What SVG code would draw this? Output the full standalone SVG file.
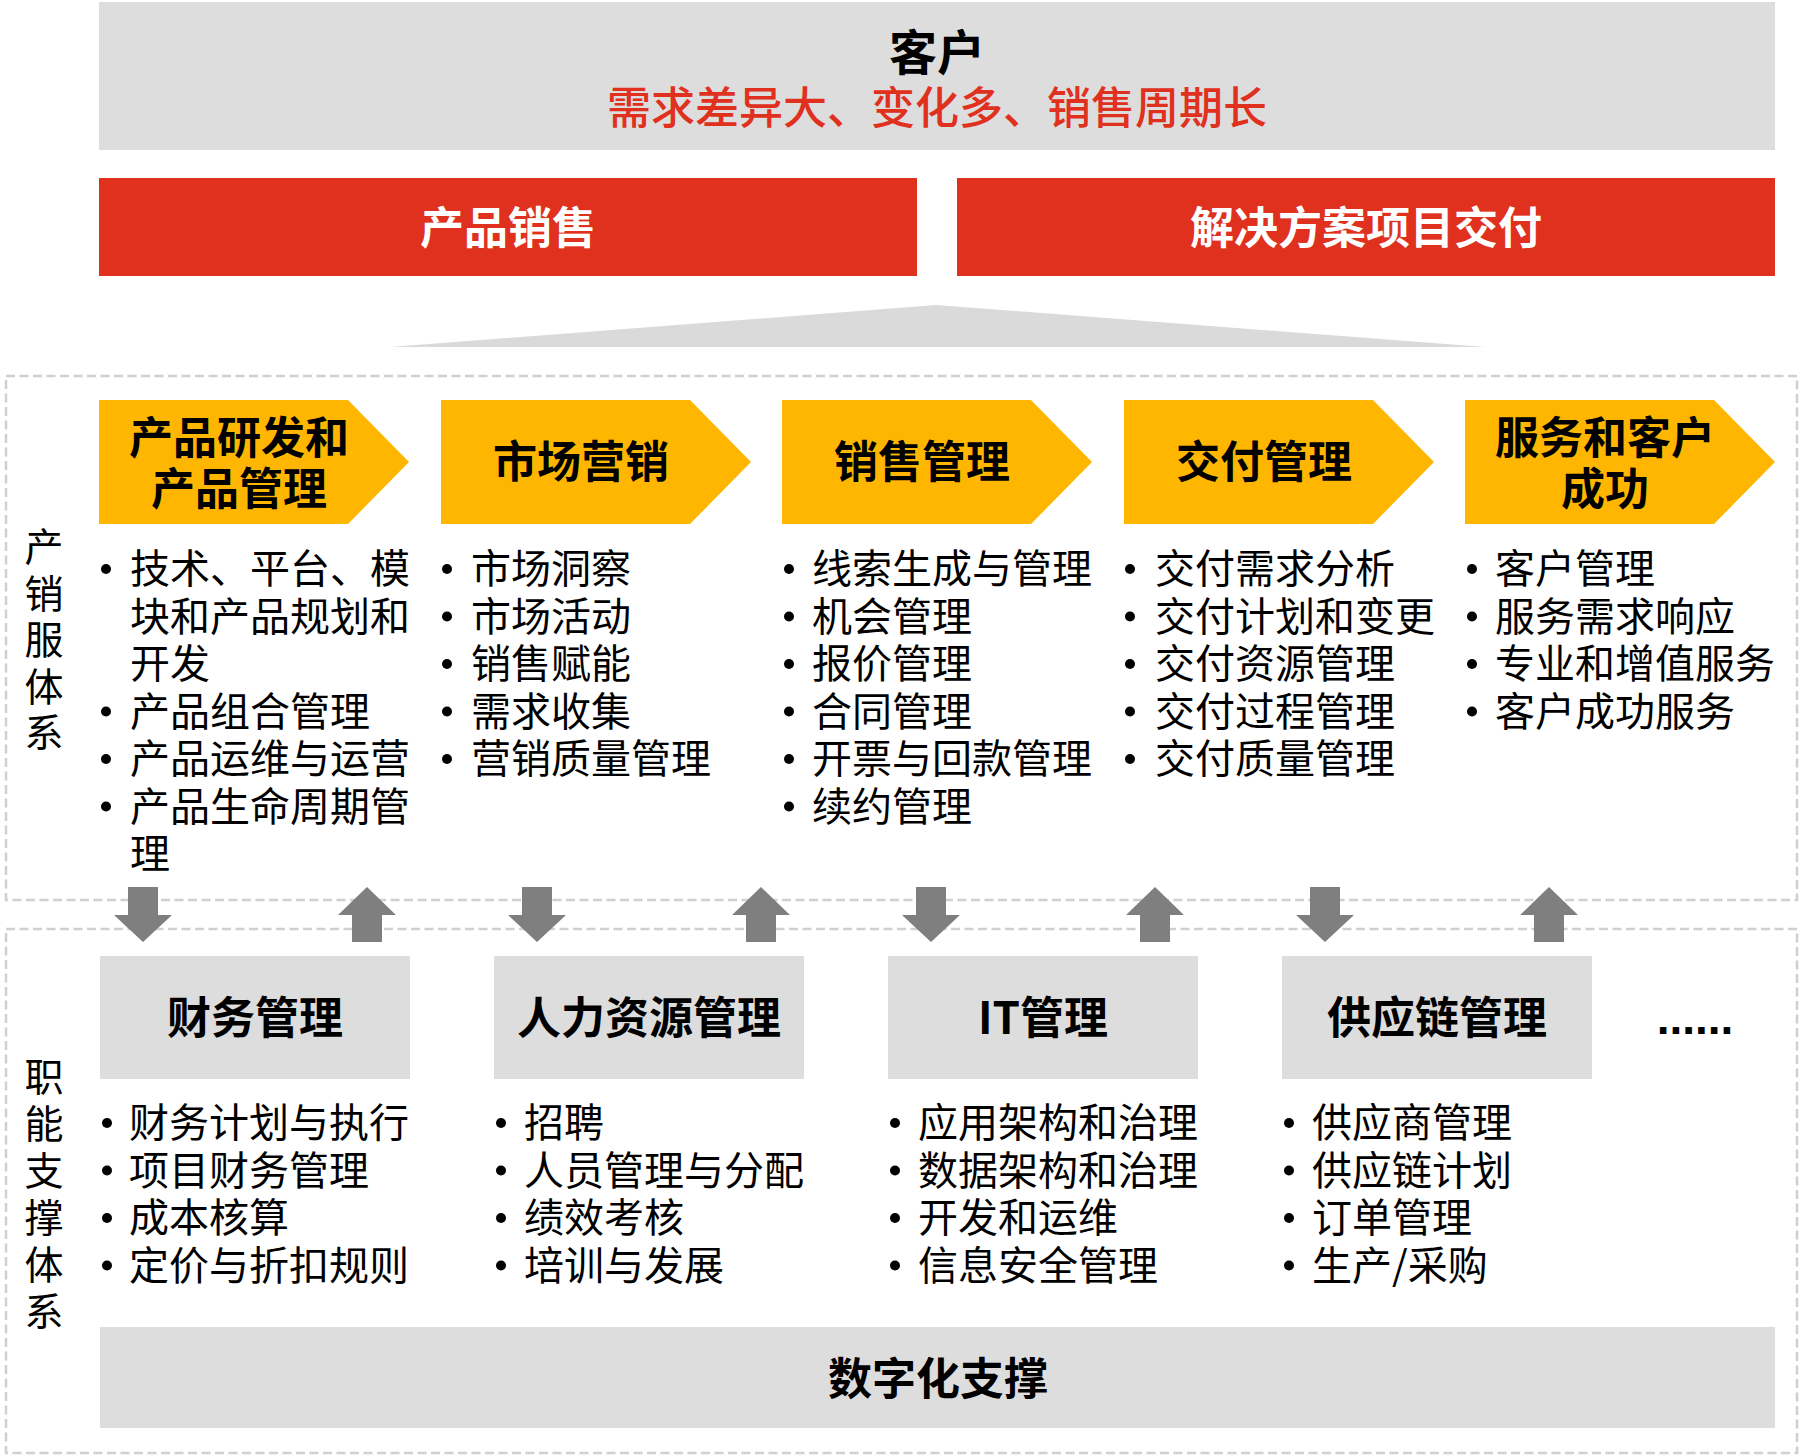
<svg xmlns="http://www.w3.org/2000/svg" width="1800" height="1456" viewBox="0 0 1800 1456">
<defs>
<style>
text { font-family: "Noto Sans CJK SC", "Liberation Sans", sans-serif; }
.ttl { font-size:44px; font-weight:700; fill:#000; text-anchor:middle; }
.wt { fill:#fff; }
.sub { font-size:44px; font-weight:500; fill:#E0301E; text-anchor:middle; }
.item { font-size:40px; fill:#000; }
.vlab { font-size:39px; fill:#000; text-anchor:middle; }
.grey { fill:#DDDDDD; }
.chev { fill:#FFB600; }
.redbar { fill:#E0301E; }
.dash { fill:none; stroke:#D0D0D0; stroke-width:2.5; stroke-dasharray:9 4.5; }
.arrow { fill:#7F7F7F; }
.dot { fill:#000; }
</style>
</defs>
<rect x="0" y="0" width="1800" height="1456" fill="#fff"/>

<g id="customer">
<rect class="grey" x="99" y="2" width="1676" height="148"/>
<text class="ttl" x="937" y="70" style="font-size:48px">客户</text>
<text class="sub" x="937" y="124">需求差异大、变化多、销售周期长</text>
</g>

<g id="product-sales">
<rect class="redbar" x="99" y="178" width="818" height="98"/>
<text class="ttl wt" x="508" y="244">产品销售</text>
</g>
<g id="solution-delivery">
<rect class="redbar" x="957" y="178" width="818" height="98"/>
<text class="ttl wt" x="1366" y="244">解决方案项目交付</text>
</g>

<g id="wedge">
<polygon points="390,347 936,305 1485,347" fill="#DADADA"/>
</g>

<g id="frames">
<rect class="dash" x="6" y="376" width="1791" height="524"/>
<rect class="dash" x="6" y="929" width="1791" height="524"/>
</g>

<g id="label-chanxiao">
<text class="vlab"><tspan x="44" y="561">产</tspan><tspan x="44" y="607.5">销</tspan><tspan x="44" y="654">服</tspan><tspan x="44" y="700.5">体</tspan><tspan x="44" y="747">系</tspan></text>
</g>

<g id="label-zhineng">
<text class="vlab"><tspan x="44" y="1091">职</tspan><tspan x="44" y="1138">能</tspan><tspan x="44" y="1185">支</tspan><tspan x="44" y="1232">撑</tspan><tspan x="44" y="1279">体</tspan><tspan x="44" y="1326">系</tspan></text>
</g>

<g id="node-rd">
<polygon class="chev" points="99,400 348,400 409,462 348,524 99,524"/>
<text class="ttl"><tspan x="239" y="454">产品研发和</tspan><tspan x="239" y="505">产品管理</tspan></text>
<circle class="dot" cx="106" cy="569" r="5"/>
<circle class="dot" cx="106" cy="711.5" r="5"/>
<circle class="dot" cx="106" cy="759" r="5"/>
<circle class="dot" cx="106" cy="806.5" r="5"/>
<text class="item"><tspan x="130" y="583">技术、平台、模</tspan><tspan x="130" y="630.5">块和产品规划和</tspan><tspan x="130" y="678">开发</tspan><tspan x="130" y="725.5">产品组合管理</tspan><tspan x="130" y="773">产品运维与运营</tspan><tspan x="130" y="820.5">产品生命周期管</tspan><tspan x="130" y="868">理</tspan></text>
</g>

<g id="node-marketing">
<polygon class="chev" points="441,400 690,400 751,462 690,524 441,524"/>
<text class="ttl" x="581" y="478">市场营销</text>
<circle class="dot" cx="447" cy="569" r="5"/>
<circle class="dot" cx="447" cy="616.5" r="5"/>
<circle class="dot" cx="447" cy="664" r="5"/>
<circle class="dot" cx="447" cy="711.5" r="5"/>
<circle class="dot" cx="447" cy="759" r="5"/>
<text class="item"><tspan x="471" y="583">市场洞察</tspan><tspan x="471" y="630.5">市场活动</tspan><tspan x="471" y="678">销售赋能</tspan><tspan x="471" y="725.5">需求收集</tspan><tspan x="471" y="773">营销质量管理</tspan></text>
</g>

<g id="node-sales">
<polygon class="chev" points="782,400 1031,400 1092,462 1031,524 782,524"/>
<text class="ttl" x="922" y="478">销售管理</text>
<circle class="dot" cx="789" cy="569" r="5"/>
<circle class="dot" cx="789" cy="616.5" r="5"/>
<circle class="dot" cx="789" cy="664" r="5"/>
<circle class="dot" cx="789" cy="711.5" r="5"/>
<circle class="dot" cx="789" cy="759" r="5"/>
<circle class="dot" cx="789" cy="806.5" r="5"/>
<text class="item"><tspan x="812" y="583">线索生成与管理</tspan><tspan x="812" y="630.5">机会管理</tspan><tspan x="812" y="678">报价管理</tspan><tspan x="812" y="725.5">合同管理</tspan><tspan x="812" y="773">开票与回款管理</tspan><tspan x="812" y="820.5">续约管理</tspan></text>
</g>

<g id="node-delivery">
<polygon class="chev" points="1124,400 1373,400 1434,462 1373,524 1124,524"/>
<text class="ttl" x="1264" y="478">交付管理</text>
<circle class="dot" cx="1130" cy="569" r="5"/>
<circle class="dot" cx="1130" cy="616.5" r="5"/>
<circle class="dot" cx="1130" cy="664" r="5"/>
<circle class="dot" cx="1130" cy="711.5" r="5"/>
<circle class="dot" cx="1130" cy="759" r="5"/>
<text class="item"><tspan x="1155" y="583">交付需求分析</tspan><tspan x="1155" y="630.5">交付计划和变更</tspan><tspan x="1155" y="678">交付资源管理</tspan><tspan x="1155" y="725.5">交付过程管理</tspan><tspan x="1155" y="773">交付质量管理</tspan></text>
</g>

<g id="node-service">
<polygon class="chev" points="1465,400 1714,400 1775,462 1714,524 1465,524"/>
<text class="ttl"><tspan x="1605" y="454">服务和客户</tspan><tspan x="1605" y="505">成功</tspan></text>
<circle class="dot" cx="1472" cy="569" r="5"/>
<circle class="dot" cx="1472" cy="616.5" r="5"/>
<circle class="dot" cx="1472" cy="664" r="5"/>
<circle class="dot" cx="1472" cy="711.5" r="5"/>
<text class="item"><tspan x="1495" y="583">客户管理</tspan><tspan x="1495" y="630.5">服务需求响应</tspan><tspan x="1495" y="678">专业和增值服务</tspan><tspan x="1495" y="725.5">客户成功服务</tspan></text>
</g>

<g id="connectors">
<polygon class="arrow" points="128,887 158,887 158,915 172,915 143,942 114,915 128,915"/>
<polygon class="arrow" points="367,887 396,915 382,915 382,942 352,942 352,915 338,915"/>
<polygon class="arrow" points="522,887 552,887 552,915 566,915 537,942 508,915 522,915"/>
<polygon class="arrow" points="761,887 790,915 776,915 776,942 746,942 746,915 732,915"/>
<polygon class="arrow" points="916,887 946,887 946,915 960,915 931,942 902,915 916,915"/>
<polygon class="arrow" points="1155,887 1184,915 1170,915 1170,942 1140,942 1140,915 1126,915"/>
<polygon class="arrow" points="1310,887 1340,887 1340,915 1354,915 1325,942 1296,915 1310,915"/>
<polygon class="arrow" points="1549,887 1578,915 1564,915 1564,942 1534,942 1534,915 1520,915"/>
</g>

<g id="node-finance">
<rect class="grey" x="100" y="956" width="310" height="123"/>
<text class="ttl" x="255" y="1034">财务管理</text>
<circle class="dot" cx="107" cy="1123" r="5"/>
<circle class="dot" cx="107" cy="1170.5" r="5"/>
<circle class="dot" cx="107" cy="1218" r="5"/>
<circle class="dot" cx="107" cy="1265.5" r="5"/>
<text class="item"><tspan x="129" y="1137">财务计划与执行</tspan><tspan x="129" y="1184.5">项目财务管理</tspan><tspan x="129" y="1232">成本核算</tspan><tspan x="129" y="1279.5">定价与折扣规则</tspan></text>
</g>

<g id="node-hr">
<rect class="grey" x="494" y="956" width="310" height="123"/>
<text class="ttl" x="649" y="1034">人力资源管理</text>
<circle class="dot" cx="501" cy="1123" r="5"/>
<circle class="dot" cx="501" cy="1170.5" r="5"/>
<circle class="dot" cx="501" cy="1218" r="5"/>
<circle class="dot" cx="501" cy="1265.5" r="5"/>
<text class="item"><tspan x="524" y="1137">招聘</tspan><tspan x="524" y="1184.5">人员管理与分配</tspan><tspan x="524" y="1232">绩效考核</tspan><tspan x="524" y="1279.5">培训与发展</tspan></text>
</g>

<g id="node-it">
<rect class="grey" x="888" y="956" width="310" height="123"/>
<text class="ttl" x="1043" y="1034">IT管理</text>
<circle class="dot" cx="895" cy="1123" r="5"/>
<circle class="dot" cx="895" cy="1170.5" r="5"/>
<circle class="dot" cx="895" cy="1218" r="5"/>
<circle class="dot" cx="895" cy="1265.5" r="5"/>
<text class="item"><tspan x="918" y="1137">应用架构和治理</tspan><tspan x="918" y="1184.5">数据架构和治理</tspan><tspan x="918" y="1232">开发和运维</tspan><tspan x="918" y="1279.5">信息安全管理</tspan></text>
</g>

<g id="node-scm">
<rect class="grey" x="1282" y="956" width="310" height="123"/>
<text class="ttl" x="1437" y="1034">供应链管理</text>
<circle class="dot" cx="1289" cy="1123" r="5"/>
<circle class="dot" cx="1289" cy="1170.5" r="5"/>
<circle class="dot" cx="1289" cy="1218" r="5"/>
<circle class="dot" cx="1289" cy="1265.5" r="5"/>
<text class="item"><tspan x="1312" y="1137">供应商管理</tspan><tspan x="1312" y="1184.5">供应链计划</tspan><tspan x="1312" y="1232">订单管理</tspan><tspan x="1312" y="1279.5">生产/采购</tspan></text>
</g>

<g id="node-more">
<text x="1695" y="1034" style="font-family:'Liberation Sans',sans-serif;font-size:46px;font-weight:700;fill:#000;text-anchor:middle">......</text>
</g>

<g id="node-digital">
<rect class="grey" x="100" y="1327" width="1675" height="101"/>
<text class="ttl" x="938" y="1395">数字化支撑</text>
</g>
</svg>
